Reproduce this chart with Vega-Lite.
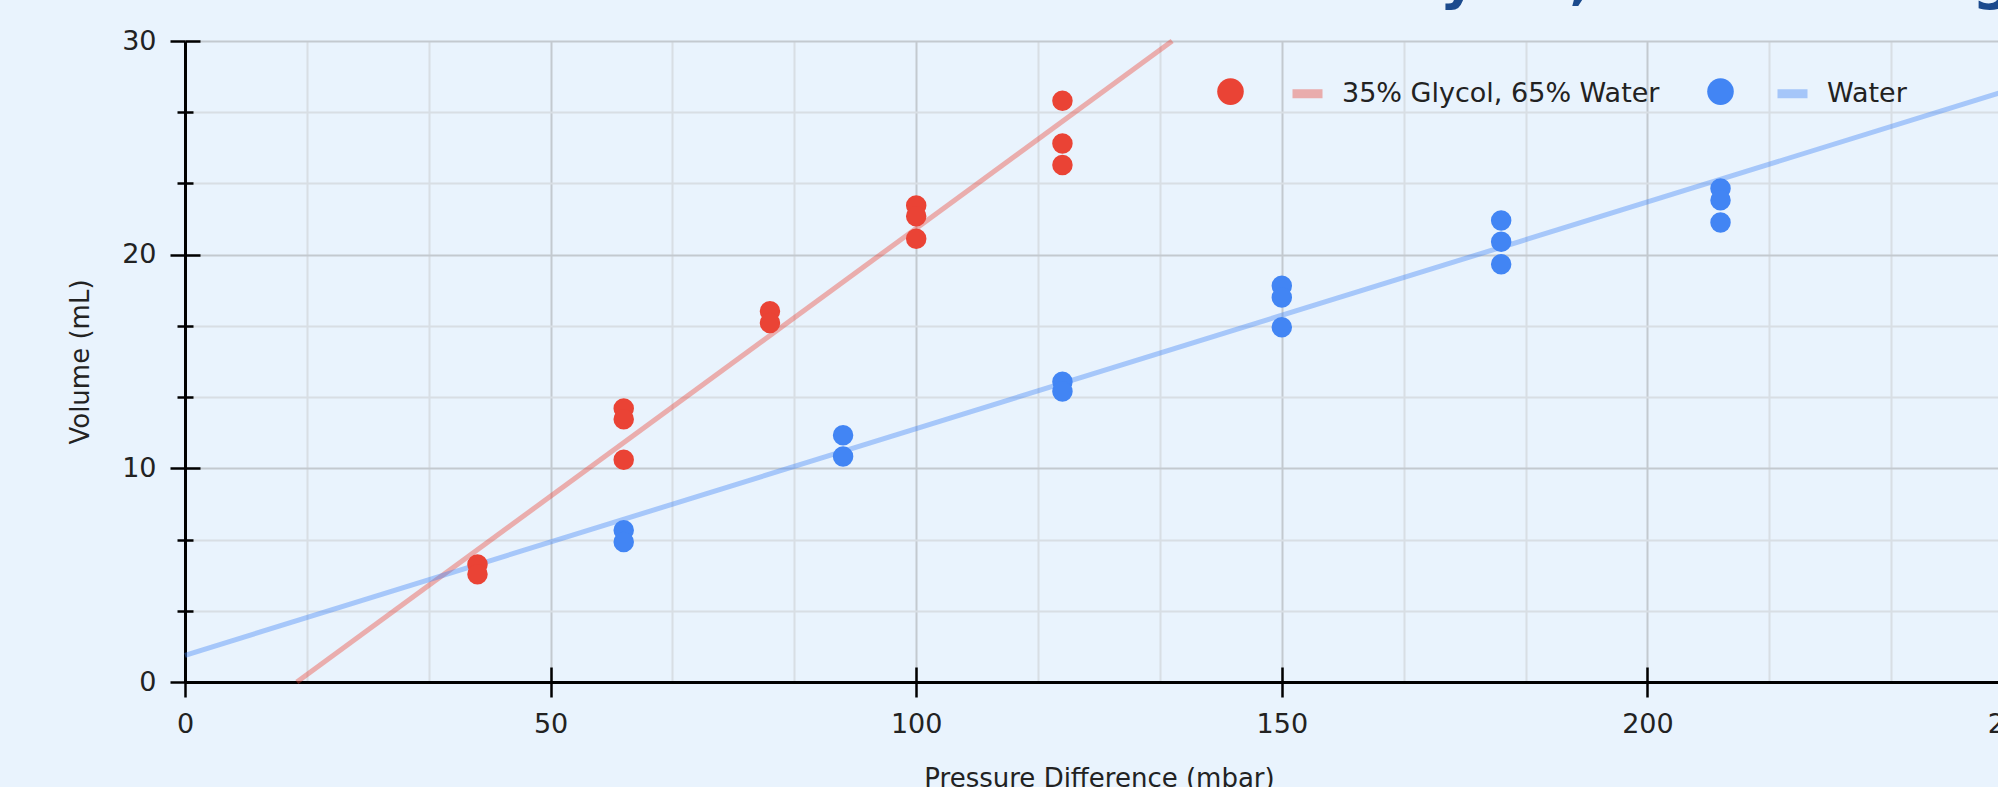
{
  "$schema": "https://vega.github.io/schema/vega-lite/v6.json",
  "autosize": {"type": "none"},
  "width": 1828,
  "height": 641,
  "padding": {"left": 185, "top": 41, "right": -15, "bottom": 105},
  "background": "#E9F3FD",
  "title": {"text": "Water and Glycol, Flow Testing", "anchor": "end", "orient": "top", "fontSize": 57, "fontWeight": "bold", "color": "#1B4A8D", "font": "DejaVu Sans", "baseline": "alphabetic", "offset": -28, "frame": "group"},
  "config": {
    "view": {"stroke": null},
    "font": "DejaVu Sans",
    "axis": {"labelColor": "#222222", "titleColor": "#222222", "titleFontWeight": "normal", "labelFlush": false}
  },
  "datasets": {
    "pts": [
      {"p": 40, "v": 5.5, "series": "35% Glycol, 65% Water"},
      {"p": 40, "v": 5.04, "series": "35% Glycol, 65% Water"},
      {"p": 60, "v": 12.8, "series": "35% Glycol, 65% Water"},
      {"p": 60, "v": 12.3, "series": "35% Glycol, 65% Water"},
      {"p": 60, "v": 10.4, "series": "35% Glycol, 65% Water"},
      {"p": 80, "v": 17.35, "series": "35% Glycol, 65% Water"},
      {"p": 80, "v": 16.8, "series": "35% Glycol, 65% Water"},
      {"p": 100, "v": 22.3, "series": "35% Glycol, 65% Water"},
      {"p": 100, "v": 21.8, "series": "35% Glycol, 65% Water"},
      {"p": 100, "v": 20.75, "series": "35% Glycol, 65% Water"},
      {"p": 120, "v": 27.2, "series": "35% Glycol, 65% Water"},
      {"p": 120, "v": 25.2, "series": "35% Glycol, 65% Water"},
      {"p": 120, "v": 24.2, "series": "35% Glycol, 65% Water"},
      {"p": 60, "v": 7.1, "series": "Water"},
      {"p": 60, "v": 6.55, "series": "Water"},
      {"p": 90, "v": 11.55, "series": "Water"},
      {"p": 90, "v": 10.55, "series": "Water"},
      {"p": 120, "v": 14.05, "series": "Water"},
      {"p": 120, "v": 13.6, "series": "Water"},
      {"p": 150, "v": 18.55, "series": "Water"},
      {"p": 150, "v": 18.0, "series": "Water"},
      {"p": 150, "v": 16.6, "series": "Water"},
      {"p": 180, "v": 21.6, "series": "Water"},
      {"p": 180, "v": 20.6, "series": "Water"},
      {"p": 180, "v": 19.55, "series": "Water"},
      {"p": 210, "v": 23.1, "series": "Water"},
      {"p": 210, "v": 22.55, "series": "Water"},
      {"p": 210, "v": 21.5, "series": "Water"}
    ],
    "fit": [
      {"p": 15.3, "v": 0, "trend": "35% Glycol, 65% Water"},
      {"p": 135, "v": 30, "trend": "35% Glycol, 65% Water"},
      {"p": 0, "v": 1.25, "trend": "Water"},
      {"p": 250, "v": 27.77, "trend": "Water"}
    ]
  },
  "resolve": {"axis": {"x": "independent", "y": "independent"}},
  "layer": [
    {
      "data": {"name": "fit"},
      "mark": {"type": "line", "strokeWidth": 5, "opacity": 0.4},
      "encoding": {
        "x": {"field": "p", "type": "quantitative", "scale": {"domain": [0, 250], "nice": false, "zero": false},
          "axis": {"orient": "bottom", "values": [16.667, 33.333, 66.667, 83.333, 116.667, 133.333, 166.667, 183.333, 216.667, 233.333], "grid": true, "gridColor": "#D8DEE4", "gridWidth": 2, "ticks": false, "labels": false, "domain": false, "title": null}},
        "y": {"field": "v", "type": "quantitative", "scale": {"domain": [0, 30], "nice": false, "zero": false},
          "axis": {"orient": "left", "values": [3.333, 6.667, 13.333, 16.667, 23.333, 26.667], "grid": true, "gridColor": "#D8DEE4", "gridWidth": 2, "ticks": true, "tickSize": 8, "tickWidth": 2.5, "tickColor": "#000000", "labels": false, "domain": false, "title": null}},
        "stroke": {"field": "trend", "type": "nominal",
          "scale": {"range": ["#EA4335", "#4285F4"]},
          "legend": {"orient": "none", "legendX": 1103, "legendY": 33, "direction": "horizontal", "title": null, "symbolType": "stroke", "symbolSize": 900, "symbolStrokeWidth": 9, "symbolOpacity": 0.4, "labelFontSize": 27, "labelLimit": 0, "labelColor": "#222222", "labelOffset": 15, "columnPadding": 99, "padding": 0}}
      }
    },
    {
      "data": {"name": "pts"},
      "mark": {"type": "circle", "size": 420, "opacity": 1},
      "encoding": {
        "x": {"field": "p", "type": "quantitative", "scale": {"domain": [0, 250], "nice": false, "zero": false},
          "axis": {"orient": "bottom", "values": [0, 50, 100, 150, 200, 250], "grid": true, "gridColor": "#C3C9CF", "gridWidth": 2, "tickSize": 15, "tickWidth": 2.5, "tickColor": "#000000", "domainColor": "#000000", "domainWidth": 3, "labelFontSize": 27, "labelPadding": 14, "title": "Pressure Difference (mbar)", "titleFontSize": 26, "titlePadding": 28}},
        "y": {"field": "v", "type": "quantitative", "scale": {"domain": [0, 30], "nice": false, "zero": false},
          "axis": {"orient": "left", "values": [0, 10, 20, 30], "grid": true, "gridColor": "#C3C9CF", "gridWidth": 2, "tickSize": 15, "tickWidth": 2.5, "tickColor": "#000000", "domainColor": "#000000", "domainWidth": 3, "labelFontSize": 27, "labelPadding": 14, "title": "Volume (mL)", "titleFontSize": 26, "titlePadding": 28}},
        "fill": {"field": "series", "type": "nominal",
          "scale": {"domain": ["35% Glycol, 65% Water", "Water"], "range": ["#EA4335", "#4285F4"]},
          "legend": {"orient": "none", "legendX": 1032, "legendY": 37, "direction": "horizontal", "title": null, "symbolType": "circle", "symbolSize": 707, "symbolStrokeWidth": 0, "labelExpr": "''", "labelFontSize": 26, "labelOffset": 0, "columnPadding": 463, "padding": 0}}
      }
    },
    {
      "data": {"name": "pts"},
      "mark": {"type": "point", "opacity": 0},
      "encoding": {
        "x": {"field": "p", "type": "quantitative", "scale": {"domain": [0, 250], "nice": false, "zero": false},
          "axis": {"orient": "bottom", "values": [0, 50, 100, 150, 200, 250], "grid": false, "tickSize": -15, "tickWidth": 2.5, "tickColor": "#000000", "labels": false, "domain": false, "title": null}},
        "y": {"field": "v", "type": "quantitative", "scale": {"domain": [0, 30], "nice": false, "zero": false},
          "axis": {"orient": "left", "values": [0, 10, 20, 30], "grid": false, "tickSize": -15, "tickWidth": 2.5, "tickColor": "#000000", "labels": false, "domain": false, "title": null}}
      }
    },
    {
      "data": {"name": "pts"},
      "mark": {"type": "point", "opacity": 0},
      "encoding": {
        "x": {"field": "p", "type": "quantitative", "scale": {"domain": [0, 250], "nice": false, "zero": false}, "axis": null},
        "y": {"field": "v", "type": "quantitative", "scale": {"domain": [0, 30], "nice": false, "zero": false},
          "axis": {"orient": "left", "values": [3.333, 6.667, 13.333, 16.667, 23.333, 26.667], "grid": false, "tickSize": -8, "tickWidth": 2.5, "tickColor": "#000000", "labels": false, "domain": false, "title": null}}
      }
    }
  ]
}
